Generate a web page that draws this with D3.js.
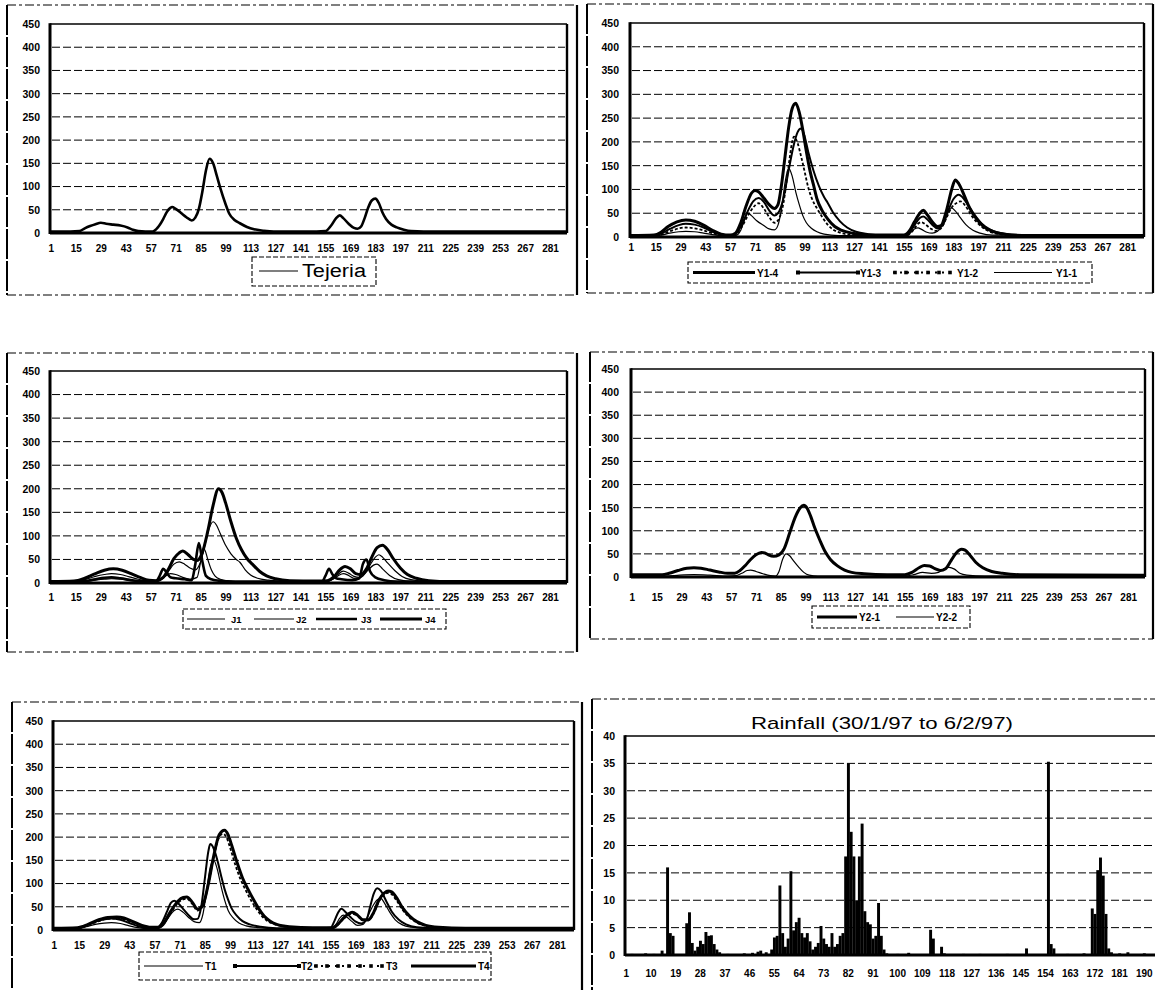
<!DOCTYPE html>
<html><head><meta charset="utf-8">
<script src="https://cdn.jsdelivr.net/npm/d3@7"></script>
<style>
body{margin:0;background:#fff;}
svg{display:block;}
text{font-family:"Liberation Sans",Arial,sans-serif;fill:#000;}
</style></head><body>
<svg id="fig" width="1155" height="990"></svg>
<script>
// ---- Axis ticks ----
const dayTicks = [1,15,29,43,57,71,85,99,113,127,141,155,169,183,197,211,225,239,253,267,281];
const flowTicks = [0,50,100,150,200,250,300,350,400,450];
const rainTicks = [0,5,10,15,20,25,30,35,40];
const rainDayTicks = [1,10,19,28,37,46,55,64,73,82,91,100,109,118,127,136,145,154,163,172,181,190];
const NDAYS = 290;   // time steps in the discharge records
const NRAIN = 200;   // days in the rainfall record

// ---- Discharge series: [time step, discharge] ----
const tejeria = [[1,3],[12,3],[17,4],[20,10],[23,15],[26,19],[29,22],[32,20],[36,18],[40,16],[44,12],[47,7],[50,4],[54,3],[58,3],[61,12],[64,30],[66,45],[68,54],[69,56],[71,52],[74,43],[77,34],[80,27],[82,33],[84,52],[86,90],[88,135],[90,160],[92,150],[94,124],[96,97],[99,62],[101,42],[104,28],[107,21],[111,13],[115,8],[120,5],[126,3],[150,3],[155,4],[158,15],[161,32],[163,38],[165,32],[168,20],[171,11],[173,9],[175,14],[177,32],[179,55],[181,70],[183,74],[185,64],[187,44],[189,30],[192,18],[195,12],[199,7],[203,4],[210,3],[290,3]];

const y1_4 = [[1,3],[14,4],[18,10],[22,22],[27,32],[32,36],[37,33],[42,25],[47,14],[52,6],[57,4],[60,8],[63,30],[66,65],[69,92],[71,98],[73,95],[76,82],[79,68],[82,60],[84,68],[86,110],[88,170],[90,230],[92,270],[94,281],[96,262],[98,225],[100,180],[102,140],[104,110],[106,80],[109,55],[112,38],[116,22],[120,14],[126,8],[135,4],[155,4],[158,12],[161,32],[164,50],[166,56],[168,48],[171,32],[174,22],[176,24],[179,55],[182,100],[184,120],[186,112],[189,88],[192,62],[196,38],[200,22],[205,12],[212,6],[225,3],[290,3]];
const y1_3 = [[1,2],[14,3],[18,7],[23,17],[28,25],[32,28],[37,26],[42,20],[47,11],[52,5],[57,3],[60,6],[63,22],[67,55],[70,75],[73,82],[76,74],[79,56],[82,45],[84,50],[87,80],[90,140],[93,195],[95,220],[97,228],[99,212],[101,180],[104,140],[107,108],[110,84],[112,72],[115,52],[119,33],[123,20],[128,11],[135,6],[145,3],[155,3],[158,8],[161,25],[164,40],[166,43],[168,38],[171,26],[174,18],[177,25],[180,55],[183,80],[186,89],[188,84],[191,68],[195,46],[199,28],[204,15],[210,8],[220,4],[290,3]];
const y1_2 = [[1,2],[14,2],[18,5],[23,12],[28,18],[32,20],[37,18],[42,14],[47,8],[52,4],[57,3],[60,5],[63,18],[67,45],[70,62],[73,71],[76,60],[79,42],[82,30],[84,35],[87,70],[90,150],[92,200],[93,211],[95,198],[97,170],[99,138],[101,105],[103,82],[106,60],[109,42],[112,26],[115,16],[119,9],[125,5],[135,3],[155,3],[158,6],[161,18],[163,28],[165,31],[167,27],[170,18],[173,13],[176,18],[179,40],[182,62],[185,72],[187,75],[190,64],[193,46],[197,28],[201,16],[206,8],[215,4],[290,3]];
const y1_1 = [[1,2],[14,2],[18,4],[23,8],[28,11],[32,12],[37,11],[42,8],[47,5],[52,3],[60,3],[63,14],[65,35],[67,50],[69,45],[72,34],[76,24],[79,17],[82,15],[84,25],[86,60],[88,115],[90,145],[92,128],[94,95],[96,68],[98,45],[100,30],[103,18],[106,11],[110,6],[118,3],[157,3],[159,10],[161,17],[163,19],[165,16],[168,10],[171,8],[174,12],[177,30],[180,52],[182,61],[184,55],[187,40],[190,26],[194,14],[198,8],[205,4],[290,3]];

const j1 = [[1,1],[15,2],[20,3],[26,6],[31,8],[35,9],[40,8],[45,5],[50,3],[58,2],[62,6],[65,14],[68,20],[71,18],[75,12],[79,8],[83,12],[85,45],[87,72],[89,50],[91,28],[93,15],[96,8],[102,4],[110,2],[155,2],[158,6],[162,15],[165,20],[168,16],[171,10],[175,12],[179,28],[182,38],[184,40],[187,30],[191,16],[196,7],[205,3],[290,2]];
const j2 = [[1,2],[14,3],[20,7],[26,14],[31,18],[35,20],[40,18],[45,13],[50,8],[55,4],[60,4],[64,10],[67,25],[70,40],[73,45],[76,40],[79,32],[82,28],[85,45],[88,90],[90,118],[92,130],[94,122],[96,105],[99,80],[102,62],[105,50],[107,44],[110,28],[113,17],[117,10],[123,6],[133,3],[155,3],[159,8],[162,18],[165,25],[168,21],[171,14],[174,12],[177,20],[180,38],[183,55],[185,60],[187,55],[190,42],[194,26],[198,14],[203,7],[210,4],[290,3]];
const j3 = [[1,2],[15,2],[20,4],[26,8],[31,11],[35,12],[40,10],[45,7],[50,4],[56,3],[60,4],[62,15],[64,30],[66,22],[68,12],[71,10],[76,8],[80,6],[82,40],[84,85],[86,45],[88,15],[91,8],[95,5],[103,3],[153,3],[155,15],[157,30],[159,18],[161,10],[164,8],[170,6],[174,10],[176,40],[178,50],[180,25],[183,12],[188,6],[195,3],[290,2]];
const j4 = [[1,3],[14,4],[20,10],[26,20],[31,27],[36,30],[41,27],[46,20],[51,12],[56,6],[60,5],[64,12],[67,30],[70,52],[73,64],[75,68],[78,60],[81,50],[83,48],[86,65],[89,110],[92,165],[95,200],[97,192],[99,170],[102,130],[105,95],[108,70],[111,52],[114,40],[118,25],[122,15],[127,9],[135,5],[150,4],[156,5],[160,14],[163,28],[166,35],[169,30],[172,20],[175,18],[178,30],[181,55],[184,75],[187,80],[190,70],[193,52],[197,32],[201,18],[206,10],[213,5],[225,3],[290,3]];

const y2_1 = [[1,5],[18,5],[22,8],[27,14],[32,19],[36,20],[40,19],[45,15],[50,11],[55,8],[59,8],[62,14],[65,25],[68,38],[71,48],[74,53],[76,52],[78,48],[81,45],[84,48],[87,62],[90,95],[93,128],[96,150],[98,155],[100,148],[102,130],[104,108],[107,80],[110,55],[113,38],[117,24],[121,15],[125,10],[132,7],[145,5],[155,5],[159,10],[163,20],[166,25],[169,24],[172,18],[175,14],[178,18],[181,35],[184,52],[187,60],[189,58],[192,46],[195,32],[199,20],[204,12],[210,8],[220,5],[290,4]];
const y2_2 = [[1,2],[20,2],[28,4],[36,5],[45,4],[55,2],[60,3],[63,8],[66,14],[68,15],[71,12],[75,7],[79,3],[82,2],[84,12],[86,38],[88,50],[90,46],[92,36],[95,22],[98,10],[101,4],[106,2],[155,2],[160,5],[165,10],[170,8],[174,10],[177,18],[180,21],[183,17],[186,8],[190,4],[200,2],[290,2]];

const t1 = [[1,2],[14,3],[19,7],[24,12],[29,15],[33,16],[38,14],[43,9],[48,5],[53,3],[59,3],[62,10],[65,28],[68,42],[70,45],[73,38],[76,27],[79,18],[82,16],[84,35],[86,85],[88,135],[90,150],[92,130],[94,95],[96,65],[98,42],[101,25],[104,15],[108,9],[115,5],[125,3],[155,3],[158,12],[160,25],[162,32],[164,28],[167,18],[170,10],[173,12],[176,32],[179,55],[181,65],[183,68],[185,58],[188,38],[191,22],[195,11],[200,6],[210,3],[290,3]];
const t2 = [[1,3],[14,4],[19,10],[24,18],[29,23],[33,25],[38,22],[43,15],[48,8],[53,4],[58,4],[61,15],[64,40],[66,58],[68,63],[70,58],[73,45],[76,32],[79,23],[81,24],[83,50],[85,110],[87,170],[88,185],[90,175],[92,150],[94,118],[96,88],[98,65],[100,46],[103,30],[106,19],[110,12],[116,7],[125,4],[150,4],[155,5],[157,18],[159,36],[161,46],[163,40],[166,28],[169,18],[172,14],[175,22],[177,50],[179,78],[181,90],[183,84],[186,62],[189,40],[193,22],[197,12],[203,6],[215,4],[290,3]];
const t3 = [[1,3],[14,4],[20,10],[26,19],[31,24],[36,25],[40,23],[45,16],[50,9],[55,5],[59,5],[62,13],[66,36],[70,58],[73,66],[75,67],[78,56],[81,42],[84,52],[87,98],[90,158],[93,200],[95,207],[97,200],[99,178],[102,140],[105,108],[108,84],[111,62],[114,44],[117,29],[120,19],[124,12],[131,7],[145,4],[156,4],[159,11],[162,23],[165,33],[167,35],[170,30],[173,21],[176,21],[179,36],[182,62],[185,77],[187,80],[189,77],[192,62],[195,44],[199,27],[203,16],[208,9],[215,5],[230,3],[290,3]];
const t4 = [[1,4],[14,5],[20,12],[26,22],[31,27],[36,28],[40,26],[45,18],[50,10],[55,6],[59,6],[62,15],[66,40],[70,62],[73,70],[75,71],[78,60],[81,45],[84,55],[87,100],[90,160],[93,205],[96,215],[98,205],[100,182],[103,145],[106,112],[109,88],[112,66],[115,46],[118,30],[121,20],[125,12],[132,7],[145,5],[156,5],[159,12],[162,25],[165,35],[167,38],[170,32],[173,22],[176,22],[179,38],[182,65],[185,80],[187,84],[189,82],[192,68],[195,48],[199,30],[203,18],[208,10],[215,6],[230,4],[290,4]];

// ---- Daily rainfall: [day, mm] (days not listed are dry) ----
const rain = [[3,0.2],[8,0.3],[11,0.2],[14,0.8],[16,16],[17,4],[18,3.5],[23,5.8],[24,7.8],[25,2.2],[26,0.8],[27,1.5],[28,2.6],[29,2],[30,4.2],[31,3.5],[32,3.6],[33,2],[34,1],[35,0.5],[38,0.2],[44,0.3],[47,0.4],[49,0.6],[50,0.8],[52,0.5],[54,1],[55,3.2],[56,3.5],[57,12.7],[58,4],[59,1.5],[60,3],[61,15.3],[62,4.5],[63,6],[64,6.8],[65,4],[66,3.2],[67,4],[68,2.5],[69,1],[70,1.5],[71,2.2],[72,5.3],[73,3],[74,2],[75,1.5],[76,4],[77,1.5],[78,2],[79,3.5],[80,4],[81,18],[82,35],[83,22.5],[84,18],[85,10],[86,18],[87,24],[88,8],[89,6],[90,5.6],[91,3],[92,3.5],[93,9.5],[94,3.5],[95,1],[96,0.3],[100,0.2],[104,0.4],[112,4.6],[113,3],[116,1.5],[117,0.3],[124,0.2],[130,0.2],[140,0.2],[147,1.2],[155,35.3],[156,2],[157,1.2],[162,0.2],[168,0.3],[171,8.5],[172,7.5],[173,15.5],[174,17.8],[175,14.5],[176,7.5],[177,1.2],[178,0.5],[181,0.3],[184,0.5],[190,0.3]];

// ---- Line styles ----
const STY = {
  thick:  {w:3.0},
  medium: {w:2.0, ends:true},
  thin:   {w:1.2},
  dotted: {w:1.8, dash:"3,2", dots:true},
  bold:   {w:2.6}
};

const svg = d3.select("#fig");
const FONT = '"Liberation Sans",Arial,sans-serif';

function outerBox(x0,y0,x1,y1){
  const g = svg.append("g");
  g.append("line").attr("x1",x0).attr("x2",x0).attr("y1",y0).attr("y2",y1)
    .attr("stroke","#000").attr("stroke-width",2).attr("stroke-dasharray","30,2");
  g.append("line").attr("x1",x1).attr("x2",x1).attr("y1",y0).attr("y2",y1)
    .attr("stroke","#000").attr("stroke-width",2.2);
  [y0,y1].forEach(y=>g.append("line").attr("x1",x0).attr("x2",x1).attr("y1",y).attr("y2",y)
    .attr("stroke","#000").attr("stroke-width",1.2).attr("stroke-dasharray","9,3,3,3"));
}

function plotFrame(p, y, ticks){
  const g = svg.append("g");
  // dashed gridlines inside the plot
  ticks.slice(1,-1).forEach(v=>{
    g.append("line").attr("x1",p.l+2).attr("x2",p.r-2).attr("y1",y(v)).attr("y2",y(v))
      .attr("stroke","#000").attr("stroke-width",1).attr("stroke-dasharray","8,3");
  });
  g.append("line").attr("x1",p.l).attr("x2",p.r).attr("y1",p.t).attr("y2",p.t).attr("stroke","#000").attr("stroke-width",1.6);
  g.append("line").attr("x1",p.r).attr("x2",p.r).attr("y1",p.t).attr("y2",p.b).attr("stroke","#000").attr("stroke-width",2.4);
  g.append("line").attr("x1",p.l).attr("x2",p.l).attr("y1",p.t-0.8).attr("y2",p.b+1).attr("stroke","#000").attr("stroke-width",3);
  g.append("line").attr("x1",p.l).attr("x2",p.r).attr("y1",p.b).attr("y2",p.b).attr("stroke","#000").attr("stroke-width",3);
}

function yAxis(p, y, ticks, pad){
  const ax = svg.append("g").attr("transform",`translate(${p.l},0)`)
    .call(d3.axisLeft(y).tickValues(ticks).tickSize(0).tickPadding(pad).tickFormat(d3.format("d")));
  ax.select(".domain").remove();
  ax.selectAll("text").attr("font-family",FONT).attr("font-size",10.5).attr("font-weight","bold").attr("fill","#000");
}

function xAxis(p, x, ticks, labelY){
  const ax = svg.append("g").attr("transform",`translate(0,${p.b})`)
    .call(d3.axisBottom(x).tickValues(ticks).tickSize(0).tickPadding(labelY-p.b-3.5).tickFormat(d3.format("d")));
  ax.select(".domain").remove();
  ax.selectAll("text").attr("font-family",FONT).attr("font-size",10).attr("font-weight","bold").attr("fill","#000");
}

function legendSample(g, it, ly){
  const s = STY[it.style];
  g.append("line").attr("x1",it.x1).attr("x2",it.x2).attr("y1",ly).attr("y2",ly)
    .attr("stroke","#000").attr("stroke-width",s.w).attr("stroke-dasharray",s.dots?"2,5":null);
  if(s.dots){
    for(let xx=it.x1+2; xx<=it.x2; xx+=11)
      g.append("rect").attr("x",xx-1.8).attr("y",ly-1.8).attr("width",3.6).attr("height",3.6).attr("fill","#000");
  }
  if(s.ends){
    [it.x1,it.x2].forEach(xx=>g.append("rect").attr("x",xx-2).attr("y",ly-2).attr("width",4).attr("height",4).attr("fill","#000"));
  }
}

function hydroPanel(cfg){
  const p = cfg.plot;
  outerBox(...cfg.box);
  const x = d3.scaleLinear().domain([0.5, NDAYS+0.5]).range([p.l, p.r]);
  const y = d3.scaleLinear().domain([0,450]).range([p.b, p.t]);
  plotFrame(p, y, flowTicks);
  yAxis(p, y, flowTicks, p.l - cfg.labelRight);
  xAxis(p, x, dayTicks, cfg.labelY);
  const line = d3.line().x(d=>x(d[0])).y(d=>y(d[1])).curve(d3.curveMonotoneX);
  const g = svg.append("g");
  cfg.series.forEach(s=>{
    const st = STY[s.style];
    g.append("path").attr("d",line(s.data)).attr("fill","none").attr("stroke","#000")
      .attr("stroke-width",st.w).attr("stroke-linejoin","round")
      .attr("stroke-dasharray",st.dash||null);
  });
  // legend
  const L = cfg.legend;
  const lg = svg.append("g");
  lg.append("rect").attr("x",L.box[0]).attr("y",L.box[1]).attr("width",L.box[2]-L.box[0]).attr("height",L.box[3]-L.box[1])
    .attr("fill","#fff").attr("stroke","#000").attr("stroke-width",1.1).attr("stroke-dasharray","5,2");
  L.items.forEach((it,i)=>{
    legendSample(lg, {...it, style:L.sampleStyle||cfg.series[i].style}, L.lineY);
    const t = lg.append("text").attr("x",it.tx).attr("y",L.baseY).text(cfg.series[i].name)
      .attr("font-size",L.font).attr("font-weight",L.weight);
    if(it.tl) t.attr("textLength",it.tl).attr("lengthAdjust","spacingAndGlyphs");
  });
}

hydroPanel({
  box:[7,5,577,295], plot:{l:50,r:567,t:24,b:233}, labelY:248, labelRight:40,
  series:[{name:"Tejeria", data:tejeria, style:"bold"}],
  legend:{box:[252,257,376,286], lineY:271, baseY:277, font:18, weight:"normal", sampleStyle:"thin",
    items:[{x1:259,x2:298,tx:302,tl:64}]}
});
hydroPanel({
  box:[587,4,1153,293], plot:{l:630,r:1144,t:23,b:237}, labelY:247, labelRight:619,
  series:[{name:"Y1-4",data:y1_4,style:"thick"},{name:"Y1-3",data:y1_3,style:"medium"},
          {name:"Y1-2",data:y1_2,style:"dotted"},{name:"Y1-1",data:y1_1,style:"thin"}],
  legend:{box:[688,262,1092,283], lineY:272.5, baseY:276.5, font:10, weight:"bold",
    items:[{x1:693,x2:755,tx:757},{x1:798,x2:858,tx:860},{x1:893,x2:953,tx:957},{x1:994,x2:1052,tx:1056}]}
});
hydroPanel({
  box:[7,353,577,652], plot:{l:50,r:567,t:371,b:583}, labelY:597, labelRight:40,
  series:[{name:"J1",data:j1,style:"thin"},{name:"J2",data:j2,style:"thin"},
          {name:"J3",data:j3,style:"bold"},{name:"J4",data:j4,style:"thick"}],
  legend:{box:[183,609,446,629], lineY:619, baseY:622.5, font:9.5, weight:"bold",
    items:[{x1:187,x2:225,tx:231},{x1:254,x2:294,tx:296},{x1:316,x2:357,tx:361},{x1:380,x2:422,tx:425}]}
});
hydroPanel({
  box:[590,352,1153,639], plot:{l:631,r:1145,t:369,b:577}, labelY:597, labelRight:619,
  series:[{name:"Y2-1",data:y2_1,style:"thick"},{name:"Y2-2",data:y2_2,style:"thin"}],
  legend:{box:[812,606,970,628], lineY:617, baseY:620.5, font:10, weight:"bold",
    items:[{x1:817,x2:857,tx:859},{x1:896,x2:934,tx:936}]}
});
hydroPanel({
  box:[12,702,582,1000], plot:{l:53,r:574,t:721,b:930}, labelY:945, labelRight:43,
  series:[{name:"T1",data:t1,style:"thin"},{name:"T2",data:t2,style:"medium"},
          {name:"T3",data:t3,style:"dotted"},{name:"T4",data:t4,style:"thick"}],
  legend:{box:[139,952,491,980], lineY:966, baseY:970, font:10, weight:"bold",
    items:[{x1:144,x2:203,tx:205},{x1:235,x2:299,tx:301},{x1:314,x2:384,tx:386},{x1:411,x2:476,tx:478}]}
});

// ---- Rainfall panel ----
(function(){
  const p = {l:625, r:625+NRAIN*2.74, t:736, b:955};
  outerBox(592,699,1170,1000);
  const x = d3.scaleBand().domain(d3.range(1,NRAIN+1)).range([p.l,p.r]).paddingInner(0);
  const y = d3.scaleLinear().domain([0,40]).range([p.b,p.t]);
  plotFrame(p, y, rainTicks);
  yAxis(p, y, rainTicks, 10);
  const ax = svg.append("g").attr("transform",`translate(0,${p.b})`)
    .call(d3.axisBottom(x).tickValues(rainDayTicks).tickSize(0).tickPadding(973-p.b-3.5));
  ax.select(".domain").remove();
  ax.selectAll("text").attr("font-family",FONT).attr("font-size",10).attr("font-weight","bold").attr("fill","#000");
  svg.append("g").selectAll("rect").data(rain).join("rect")
    .attr("x",d=>x(d[0])).attr("width",x.bandwidth()+0.2)
    .attr("y",d=>y(d[1])).attr("height",d=>p.b-y(d[1])).attr("fill","#000");
  svg.append("text").attr("x",882).attr("y",729).attr("text-anchor","middle")
    .attr("font-size",17).attr("textLength",262).attr("lengthAdjust","spacingAndGlyphs")
    .text("Rainfall (30/1/97 to 6/2/97)");
})();
</script>
</body></html>
